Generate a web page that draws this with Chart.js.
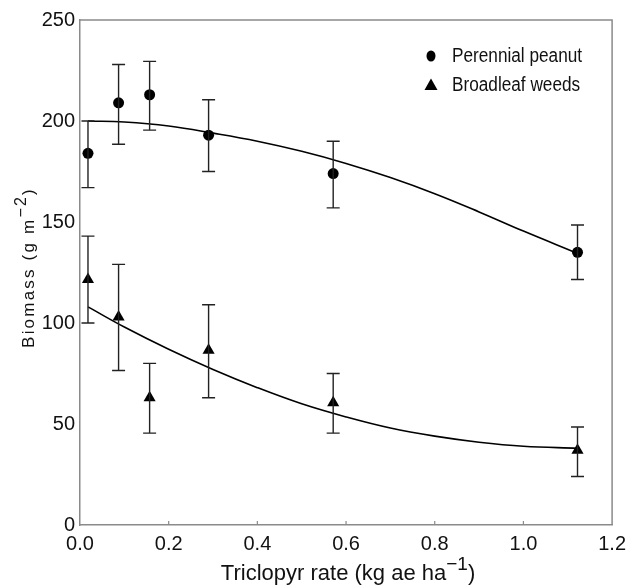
<!DOCTYPE html>
<html>
<head>
<meta charset="utf-8">
<script src="https://cdn.jsdelivr.net/npm/chart.js@4/dist/chart.umd.min.js"></script>
<style>
html,body{margin:0;padding:0;background:#fff;}
#wrap{width:633px;height:586px;position:relative;}
</style>
</head>
<body>
<div id="wrap"><canvas id="c" width="633" height="586"></canvas></div>
<script>
// ---- data ----
const seriesNames = ["Perennial peanut", "Broadleaf weeds"];
const rates = [0.018, 0.087, 0.157, 0.29, 0.571, 1.122];
const peanutMean = [184, 209, 213, 193, 174, 135];
const peanutLow  = [167, 188.5, 195.5, 175, 157, 121.5];
const peanutHigh = [200, 228, 229.5, 210.5, 190, 148.5];
const weedMean = [121.5, 103, 63, 86.5, 60.5, 37];
const weedLow  = [100, 76.5, 45.5, 63, 45.5, 24];
const weedHigh = [143, 129, 80, 109, 75, 48.5];
const fitX      = [0.018, 0.1, 0.2, 0.3, 0.4, 0.5, 0.6, 0.7, 0.8, 0.9, 1.0, 1.122];
const peanutFit = [200, 199.5, 197.5, 194, 190, 185, 179, 172, 164, 155, 145.5, 134.5];
const weedFit   = [108, 98, 87, 77, 68, 60, 53.5, 48, 44, 41, 39, 38];
// axis titles: [main text, superscript, closing]
const xTitleParts = ["Triclopyr rate (kg ae ha", "\u22121", ")"];
const yTitleParts = ["Biomass (g m", "\u22122", ")"];

const pts = (xs, ys) => xs.map((x, i) => ({x: x, y: ys[i]}));
const FONT = "'Liberation Sans', Arial, sans-serif";
const AXIS_COLOR = '#8a8a8a';

function drawTitle(ctx, parts, size, supSize, rise, spacing) {
  ctx.letterSpacing = spacing + 'px';
  ctx.font = size + 'px ' + FONT;
  const w0 = ctx.measureText(parts[0]).width;
  const w2 = ctx.measureText(parts[2]).width;
  ctx.font = supSize + 'px ' + FONT;
  const w1 = ctx.measureText(parts[1]).width;
  const total = w0 + w1 + w2;
  let x = -total / 2;
  ctx.textAlign = 'left';
  ctx.textBaseline = 'alphabetic';
  ctx.font = size + 'px ' + FONT;
  ctx.fillText(parts[0], x, 0); x += w0;
  ctx.font = supSize + 'px ' + FONT;
  ctx.fillText(parts[1], x, -rise); x += w1;
  ctx.font = size + 'px ' + FONT;
  ctx.fillText(parts[2], x, 0);
}

const errorBars = {
  id: 'errorBars',
  afterDatasetsDraw(chart) {
    const {ctx, scales: {x, y}} = chart;
    ctx.save();
    ctx.strokeStyle = '#222';
    ctx.lineWidth = 1.4;
    const draw = (lo, hi) => {
      rates.forEach((r, i) => {
        const px = x.getPixelForValue(r);
        const y1 = y.getPixelForValue(lo[i]);
        const y2 = y.getPixelForValue(hi[i]);
        ctx.beginPath();
        ctx.moveTo(px, y1); ctx.lineTo(px, y2);
        ctx.moveTo(px - 6.5, y1); ctx.lineTo(px + 6.5, y1);
        ctx.moveTo(px - 6.5, y2); ctx.lineTo(px + 6.5, y2);
        ctx.stroke();
      });
    };
    draw(peanutLow, peanutHigh);
    draw(weedLow, weedHigh);
    ctx.restore();
  }
};

const frame = {
  id: 'frame',
  afterDraw(chart) {
    const {ctx, chartArea: a, scales: {x}} = chart;
    ctx.save();
    ctx.strokeStyle = AXIS_COLOR;
    ctx.lineWidth = 1.5;
    ctx.beginPath();
    ctx.moveTo(a.left, a.top); ctx.lineTo(a.right, a.top); ctx.lineTo(a.right, a.bottom);
    ctx.stroke();
    ctx.lineWidth = 1.2;
    x.ticks.forEach(t => {
      const px = x.getPixelForValue(t.value);
      if (px <= a.left + 1 || px >= a.right - 1) return;
      ctx.beginPath();
      ctx.moveTo(px, a.bottom); ctx.lineTo(px, a.bottom - 4);
      ctx.stroke();
    });
    ctx.restore();

    // y title
    ctx.save();
    ctx.fillStyle = '#111';
    ctx.translate(34, (a.top + a.bottom) / 2 - 5);
    ctx.rotate(-Math.PI / 2);
    drawTitle(ctx, yTitleParts, 17, 16, 8, 2.2);
    ctx.restore();

    // x title
    ctx.save();
    ctx.fillStyle = '#111';
    ctx.translate((a.left + a.right) / 2 + 2, 580);
    drawTitle(ctx, xTitleParts, 22, 19, 10, 0);
    ctx.restore();

    // legend
    ctx.save();
    ctx.fillStyle = '#000';
    const lx = 431, ly = [56, 85];
    ctx.beginPath();
    ctx.ellipse(lx, ly[0], 4.5, 5.5, 0, 0, Math.PI * 2);
    ctx.fill();
    ctx.beginPath();
    ctx.moveTo(lx, ly[1] - 6.5); ctx.lineTo(lx + 6.5, ly[1] + 5); ctx.lineTo(lx - 6.5, ly[1] + 5);
    ctx.closePath();
    ctx.fill();
    ctx.fillStyle = '#111';
    ctx.font = '20px ' + FONT;
    ctx.textBaseline = 'middle';
    ctx.textAlign = 'left';
    seriesNames.forEach((n, i) => {
      ctx.save();
      ctx.translate(452, ly[i]);
      ctx.scale(0.86, 1);
      ctx.fillText(n, 0, 0);
      ctx.restore();
    });
    ctx.restore();
  }
};

new Chart(document.getElementById('c'), {
  type: 'scatter',
  data: {
    datasets: [
      {label: seriesNames[0] + ' fit', type: 'line', data: pts(fitX, peanutFit), borderColor: '#000', borderWidth: 1.6, pointRadius: 0, tension: 0.4, fill: false},
      {label: seriesNames[1] + ' fit', type: 'line', data: pts(fitX, weedFit), borderColor: '#000', borderWidth: 1.6, pointRadius: 0, tension: 0.4, fill: false},
      {label: seriesNames[0], data: pts(rates, peanutMean), pointStyle: 'circle', pointRadius: 5.5, backgroundColor: '#000', borderColor: '#000', borderWidth: 0},
      {label: seriesNames[1], data: pts(rates, weedMean), pointStyle: 'triangle', pointRadius: 7, backgroundColor: '#000', borderColor: '#000', borderWidth: 0}
    ]
  },
  options: {
    responsive: false,
    animation: false,
    events: [],
    layout: {padding: {top: 20, right: 16, left: 0, bottom: 0}},
    plugins: {legend: {display: false}, tooltip: {enabled: false}},
    scales: {
      x: {
        type: 'linear', min: 0, max: 1.2,
        grid: {display: false, drawTicks: false},
        border: {display: true, color: AXIS_COLOR, width: 1.5},
        ticks: {stepSize: 0.2, padding: 7, color: '#111', font: {family: FONT, size: 20}, callback: v => Number(v).toFixed(1), maxRotation: 0},
        title: {display: false},
        afterFit(s) { s.height = 61; }
      },
      y: {
        type: 'linear', min: 0, max: 250,
        grid: {display: false, drawTicks: false},
        border: {display: true, color: AXIS_COLOR, width: 1.5},
        ticks: {stepSize: 50, padding: 5, color: '#111', font: {family: FONT, size: 20}},
        title: {display: false},
        afterFit(s) { s.width = 80; }
      }
    }
  },
  plugins: [errorBars, frame]
});
</script>
</body>
</html>
